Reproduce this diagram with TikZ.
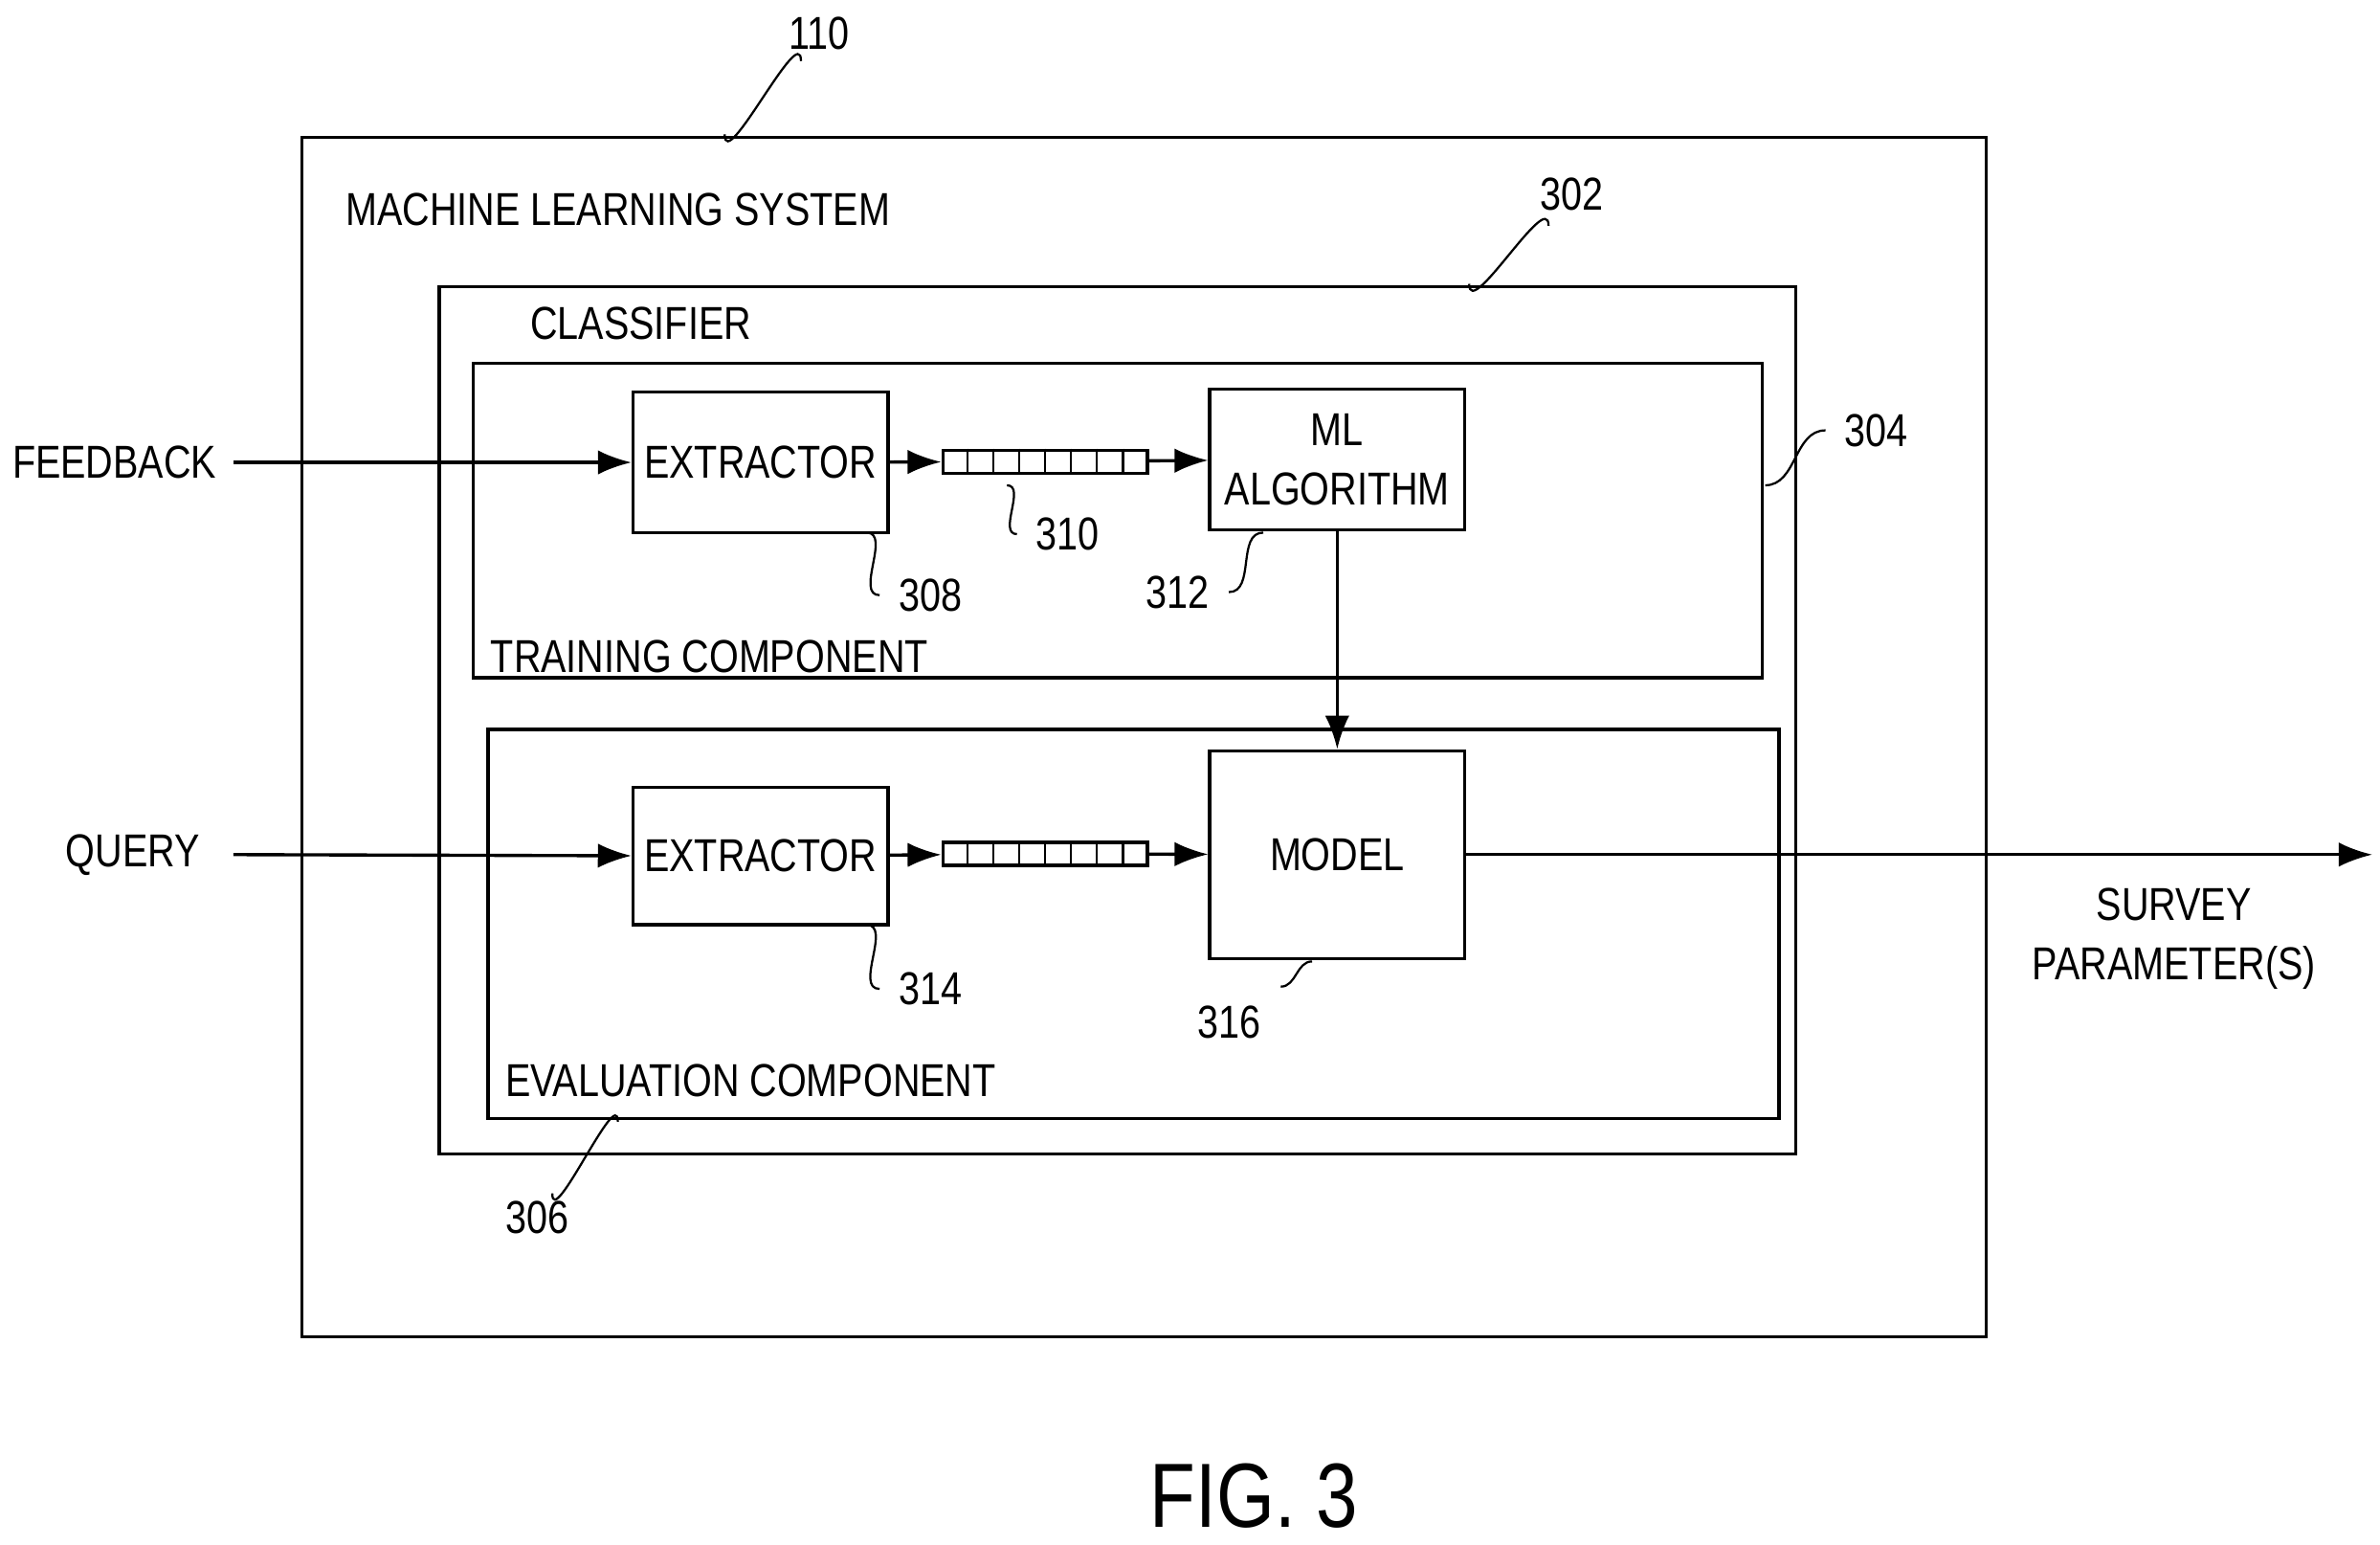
\documentclass[tikz,border=0pt]{standalone}
\usepackage{fontspec}
\setmainfont[FakeStretch=0.82]{Liberation Sans}
\usetikzlibrary{positioning,arrows.meta,calc}
\tikzset{
    block/.style = {
        shape = rectangle,
        draw,
        align = center,
        inner sep = 0pt
    },
    vector/.style = {
        shape = rectangle,
        draw,
        minimum width = 1.34cm,
        minimum height = 0.15cm,
        inner sep = 0pt
    },
    lead/.style = {thin},
    lbl/.style = {font=\fontsize{8.6}{11}\selectfont, align=center}
}

\begin{document}
\begin{tikzpicture}[x=0.01cm, y=-0.01cm, semithick, >={Latex[length=2.2mm,width=1.6mm]}, nodes = {lbl}]
    \useasboundingbox (0,0) rectangle (1560,1012);

    % containers
    \draw (198,90) rectangle (1302,876);
    \draw (288,188) rectangle (1177,756);
    \draw (310,238) rectangle (1155,444);
    \draw (320,478) rectangle (1166,733);
    \node at (405,137) {MACHINE LEARNING SYSTEM};
    \node at (420,212) {CLASSIFIER};
    \node at (465,430) {TRAINING COMPONENT};
    \node at (492,708) {EVALUATION COMPONENT};

    % training path
    \node (ext1) [block, minimum width=1.67cm, minimum height=0.92cm] at (498.5,303) {EXTRACTOR};
    \node (vec1) [vector] at (685,302.5) {};
    \node (alg)  [block, minimum width=1.67cm, minimum height=0.92cm] at (876.5,301) {ML\\ALGORITHM};

    % evaluation path
    \node (ext2)  [block, minimum width=1.67cm, minimum height=0.90cm] at (498.5,561) {EXTRACTOR};
    \node (vec2)  [vector] at (685,559.5) {};
    \node (model) [block, minimum width=1.67cm, minimum height=1.36cm] at (876.5,560) {MODEL};

    \foreach \v in {vec1,vec2}
        \foreach \i in {1,...,7}
            \draw[thin] ($(\v.north west)!\i/8!(\v.north east)$) -- ($(\v.south west)!\i/8!(\v.south east)$);

    % inputs and outputs
    \node (fb)  at (75,303) {FEEDBACK};
    \node (qry) at (87,560) {QUERY};
    \node (out) at (1425,615) {SURVEY\\PARAMETER(S)};
    \coordinate (fbin) at (153,303);
    \coordinate (qin)  at (153,560);
    \coordinate (end)  at (1555,560);

    \draw[->] (fbin) -- (ext1);
    \draw[->] (ext1) -- (vec1);
    \draw[->] (vec1) -- (alg);
    \draw[->] (qin) -- (ext2);
    \draw[->] (ext2) -- (vec2);
    \draw[->] (vec2) -- (model);
    \draw[->] (alg) -- (model);
    \draw[->] (model) -- (end);

    % reference numerals
    \node (n110) at (537,22)  {110};
    \node (n302) at (1030,127) {302};
    \node (n304) at (1230,282) {304};
    \node (n306) at (352,798) {306};
    \node (n308) at (610,390) {308};
    \node (n310) at (700,350) {310};
    \node (n312) at (772,388) {312};
    \node (n314) at (610,648) {314};
    \node (n316) at (806,670) {316};

    \draw[lead] (475,88) to[out=-90,in=90] (525,40);
    \draw[lead] (963,186) to[out=-90,in=90] (1015,148);
    \draw[lead] (1157,318) to[out=0,in=180] (n304.west);
    \draw[lead] (405,735) to[out=90,in=-90] (362,782);
    \draw[lead] (568,349) to[out=0,in=180] (n308.west);
    \draw[lead] (660,318) to[out=0,in=180] (n310.west);
    \draw[lead] (828,349) to[out=180,in=0] (n312.east);
    \draw[lead] (568,606) to[out=0,in=180] (n314.west);
    \draw[lead] (860,630) to[out=180,in=0] (n316.north east);

    \node[font=\fontsize{17}{20}\selectfont] (fig) at (822,980) {FIG. 3};
\end{tikzpicture}
\end{document}
